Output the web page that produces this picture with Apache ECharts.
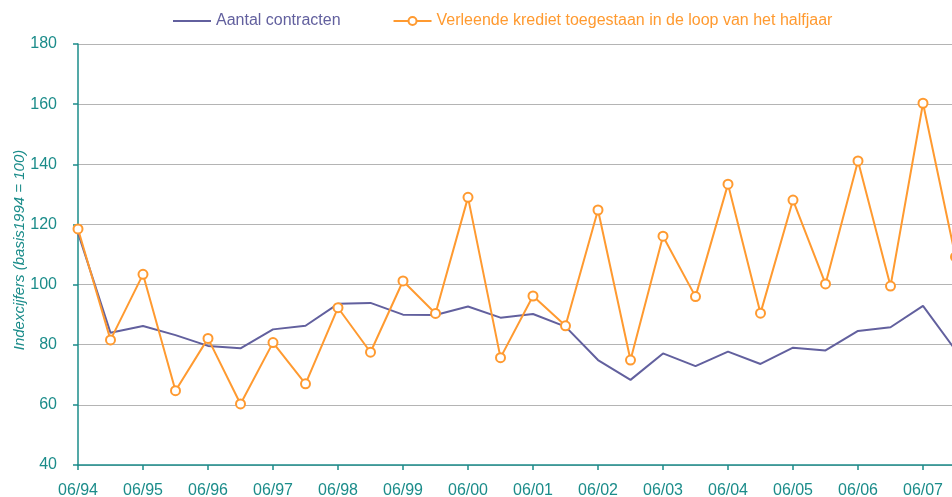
<!DOCTYPE html>
<html>
<head>
<meta charset="utf-8">
<title>Indexcijfers krediet</title>
<script src="https://cdn.jsdelivr.net/npm/echarts@6/dist/echarts.min.js"></script>
<style>
  html, body { margin: 0; padding: 0; background: #fff; }
  #chart { width: 952px; height: 497px; }
</style>
</head>
<body>
<div id="chart"></div>
<script>
// halfjaarlijkse periodes, 06/94 t/m 12/07
var periods = ['06/94','12/94','06/95','12/95','06/96','12/96','06/97','12/97',
  '06/98','12/98','06/99','12/99','06/00','12/00','06/01','12/01',
  '06/02','12/02','06/03','12/03','06/04','12/04','06/05','12/05',
  '06/06','12/06','06/07','12/07'];

var contracten = [117.2, 84.0, 86.2, 83.2, 79.6, 78.8, 85.1, 86.3,
  93.6, 93.9, 90.0, 89.9, 92.7, 89.0, 90.2, 86.0,
  74.9, 68.3, 77.1, 72.9, 77.7, 73.6, 79.0, 78.1,
  84.6, 85.8, 92.9, 78.2];

var krediet = [118.5, 81.6, 103.4, 64.7, 82.1, 60.3, 80.7, 67.0,
  92.3, 77.5, 101.2, 90.4, 129.0, 75.7, 96.2, 86.3,
  124.8, 74.9, 116.1, 96.0, 133.4, 90.5, 128.1, 100.2,
  141.1, 99.5, 160.3, 109.2];

var names = ['Aantal contracten', 'Verleende krediet toegestaan in de loop van het halfjaar'];
var yTitle = 'Indexcijfers (basis1994 = 100)';
var purple = '#62609e';
var orange = '#ff9a30';
var teal = '#1b8c8a';

var chart = echarts.init(document.getElementById('chart'));
chart.setOption({
  animation: false,
  grid: { left: 78, right: -3.5, top: 44, bottom: 32, outerBoundsMode: 'none' },
  legend: {
    left: 167,
    top: 8,
    itemWidth: 38,
    itemHeight: 10,
    itemGap: 52,
    textStyle: { fontFamily: 'Liberation Sans, Arial', fontSize: 16 },
    data: [
      { name: names[0], itemStyle: { opacity: 0 }, textStyle: { color: purple } },
      { name: names[1], textStyle: { color: orange } }
    ]
  },
  // as-titel apart geplaatst, de naam van de y-as schoof steeds naar links
  graphic: [{
    type: 'text',
    x: 20,
    y: 250,
    rotation: Math.PI / 2,
    style: {
      text: yTitle,
      fill: teal,
      font: 'italic 15px "Liberation Sans", Arial',
      align: 'center',
      verticalAlign: 'middle'
    }
  }],
  xAxis: {
    type: 'category',
    data: periods,
    boundaryGap: false,
    axisLine: { lineStyle: { color: teal, width: 1.5 } },
    axisTick: { interval: 1, length: 5, lineStyle: { color: teal, width: 1.5 } },
    axisLabel: {
      interval: 1,
      margin: 18,
      color: teal,
      fontFamily: 'Liberation Sans, Arial',
      fontSize: 16
    },
    splitLine: { show: false }
  },
  yAxis: {
    type: 'value',
    min: 40,
    max: 180,
    interval: 20,
    axisLine: { show: true, lineStyle: { color: teal, width: 1.5 } },
    axisTick: { show: true, length: 5, lineStyle: { color: teal, width: 1.5 } },
    axisLabel: {
      margin: 21,
      color: teal,
      fontFamily: 'Liberation Sans, Arial',
      fontSize: 16
    },
    splitLine: { lineStyle: { color: '#b4b4b4', width: 1.2 } }
  },
  series: [
    {
      name: names[0],
      type: 'line',
      data: contracten,
      symbol: 'none',
      lineStyle: { color: purple, width: 2 },
      itemStyle: { color: purple }
    },
    {
      name: names[1],
      type: 'line',
      data: krediet,
      symbol: 'emptyCircle',
      symbolSize: 9,
      lineStyle: { color: orange, width: 2 },
      itemStyle: { color: orange, borderWidth: 2, borderColor: orange }
    }
  ]
});
</script>
</body>
</html>
